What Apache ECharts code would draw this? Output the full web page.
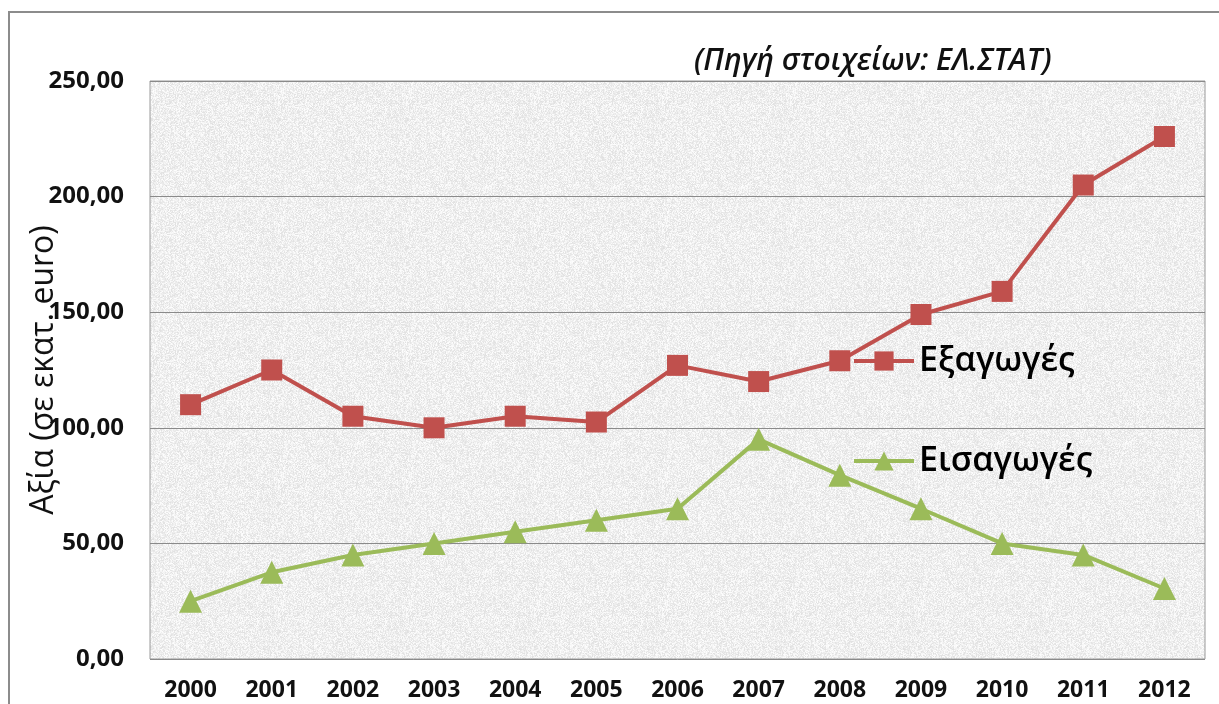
<!DOCTYPE html>
<html>
<head>
<meta charset="utf-8">
<script src="https://cdn.jsdelivr.net/npm/echarts@6/dist/echarts.min.js"></script>
<style>
html,body{margin:0;padding:0;background:#fff;}
#c{width:1219px;height:704px;}
</style>
</head>
<body>
<div id="c"></div>
<script>
var years = ['2000','2001','2002','2003','2004','2005','2006','2007','2008','2009','2010','2011','2012'];
var exportsVals = [110, 125, 105, 100, 105, 102.5, 127, 120, 129, 149, 159, 205, 226];
var importsVals = [25, 37.5, 45, 50, 55, 60, 65, 95, 79.5, 65, 50, 45, 30.5];
var seriesNames = ['Εξαγωγές', 'Εισαγωγές'];
var yTicks = [0, 50, 100, 150, 200, 250];

// decorative granite-like texture for the plot background (deterministic hash)
function makeTexture() {
  var s = 128, cv = document.createElement('canvas');
  cv.width = s; cv.height = s;
  var ctx = cv.getContext('2d');
  var img = ctx.createImageData(s, s);
  for (var i = 0; i < s * s; i++) {
    var h = Math.sin(i * 12.9898 + 78.233) * 43758.5453;
    h = h - Math.floor(h);
    var g = Math.round(224 + h * 30);
    img.data[i * 4] = g; img.data[i * 4 + 1] = g; img.data[i * 4 + 2] = g; img.data[i * 4 + 3] = 255;
  }
  ctx.putImageData(img, 0, 0);
  return cv;
}

var chart = echarts.init(document.getElementById('c'), null, {renderer: 'canvas'});
var font = '"Open Sans", "Noto Sans", sans-serif';
var option = {
  backgroundColor: '#ffffff',
  animation: false,
  grid: {
    left: 150, top: 81, right: 14, bottom: 45, containLabel: false, outerBoundsMode: 'none',
    show: true, backgroundColor: {image: makeTexture(), repeat: 'repeat'},
    borderColor: '#9a9a9a', borderWidth: 1
  },
  graphic: [
    {type: 'rect', z: -10, shape: {x: 9, y: 12, width: 1300, height: 800},
     style: {fill: null, stroke: '#8c8c8c', lineWidth: 2}},
    {type: 'text', left: 694, top: 46,
     style: {text: '(Πηγή στοιχείων: ΕΛ.ΣΤΑΤ)', font: 'italic 600 30px ' + font, fill: '#111'}}
  ],
  legend: [
    {data: [seriesNames[0]], orient: 'vertical', left: 847, top: 339,
     itemWidth: 60, itemHeight: 24, itemGap: 6, lineStyle: {width: 4},
     textStyle: {fontSize: 34, fontWeight: 600, color: '#000', fontFamily: font}},
    {data: [seriesNames[1]], orient: 'vertical', left: 847, top: 439,
     itemWidth: 60, itemHeight: 24, itemGap: 6, lineStyle: {width: 4},
     textStyle: {fontSize: 34, fontWeight: 600, color: '#000', fontFamily: font}}
  ],
  xAxis: {
    type: 'category', data: years, boundaryGap: true,
    axisLine: {show: false}, axisTick: {show: false},
    axisLabel: {fontSize: 23, fontWeight: 'bold', color: '#111', fontFamily: font, margin: 20}
  },
  yAxis: {
    type: 'value', min: yTicks[0], max: yTicks[yTicks.length - 1], interval: 50,
    name: 'Αξία (σε εκατ. euro)', nameLocation: 'middle', nameRotate: 90, nameGap: 90,
    nameMoveOverlap: false,
    nameTextStyle: {fontSize: 32, color: '#111', fontFamily: font},
    axisLine: {show: false}, axisTick: {show: false},
    axisLabel: {fontSize: 24, fontWeight: 'bold', color: '#111', fontFamily: font, margin: 26,
      formatter: function (v) { return v.toFixed(2).replace('.', ','); }},
    splitLine: {lineStyle: {color: '#8a8a8a', width: 1}}
  },
  series: [
    {name: seriesNames[0], type: 'line', data: exportsVals, symbol: 'rect', symbolSize: 21,
     lineStyle: {color: '#c0504d', width: 4}, itemStyle: {color: '#c0504d'}},
    {name: seriesNames[1], type: 'line', data: importsVals, symbol: 'triangle', symbolSize: 23,
     lineStyle: {color: '#9bbb59', width: 4}, itemStyle: {color: '#9bbb59'}}
  ]
};
chart.setOption(option);
</script>
</body>
</html>
